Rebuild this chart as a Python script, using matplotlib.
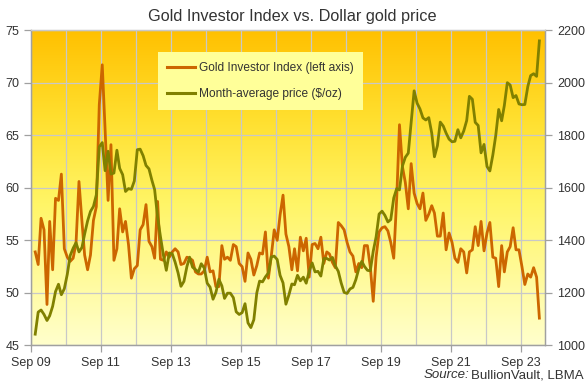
import numpy as np
import pandas as pd
import matplotlib
matplotlib.use('Agg')
import matplotlib.pyplot as plt
import matplotlib.dates as mdates
from matplotlib.colors import LinearSegmentedColormap

plt.rcParams['font.family'] = ['Liberation Sans', 'DejaVu Sans']

# monthly points, Oct 2009 .. Mar 2024 (plotted mid-month)
dates = pd.date_range('2009-10-01', periods=174, freq='MS') + pd.Timedelta(days=14)

gold_investor_index = [
    53.9, 52.7, 57.1,
    56.0, 48.9, 56.8, 52.2, 59.0, 58.8, 61.3, 54.2, 53.4, 53.0, 53.3, 54.7,
    60.6, 56.8, 53.6, 52.2, 53.6, 56.9, 58.2, 67.9, 71.7, 65.5, 58.8, 64.1,
    53.1, 54.2, 58.0, 55.8, 56.8, 54.6, 51.4, 52.3, 52.6, 56.0, 56.5, 58.4,
    54.9, 54.4, 53.3, 58.7, 53.2, 53.1, 53.9, 53.4, 53.9, 54.2, 53.9, 52.7,
    52.8, 53.4, 53.3, 53.1, 52.0, 51.8, 51.8, 52.1, 53.4, 52.0, 52.1, 50.6,
    50.6, 54.5, 53.2, 53.4, 53.1, 54.6, 54.4, 52.8, 52.5, 51.1, 53.8, 53.2,
    51.7, 52.6, 53.8, 53.7, 55.8, 51.4, 53.5, 56.0, 55.0, 57.4, 59.3, 55.6,
    54.4, 52.2, 54.2, 52.1, 55.3, 54.0, 55.2, 51.5, 54.6, 54.7, 54.2, 55.3,
    52.8, 53.9, 53.7, 52.9, 52.4, 56.7, 56.4, 56.0, 54.8, 53.9, 53.5, 52.0,
    52.8, 52.4, 54.5, 54.5, 52.5, 49.2, 53.4, 55.8, 56.2, 56.3, 55.9, 54.8,
    53.3, 59.0, 66.0, 62.0, 60.5, 58.0, 62.3, 59.5, 58.5, 58.0, 59.5, 56.9,
    57.5, 58.3, 57.6, 55.4, 55.4, 57.6, 54.1, 55.7, 54.8, 53.3, 52.9, 54.2,
    53.9, 51.9, 53.9, 54.1, 56.3, 54.5, 56.8, 54.0, 55.7, 56.7, 53.4, 53.3,
    50.6, 54.5, 52.0, 53.9, 54.4, 56.2, 54.1, 54.1, 52.5, 50.8, 51.8, 51.5,
    52.4, 51.5, 47.6,
]

month_avg_price = [
    1043, 1127, 1135,
    1118, 1095, 1113, 1149, 1205, 1233, 1193, 1216, 1271, 1342, 1370, 1391,
    1356, 1373, 1424, 1474, 1510, 1529, 1573, 1756, 1772, 1665, 1739, 1652,
    1656, 1743, 1674, 1650, 1586, 1597, 1594, 1626, 1745, 1747, 1722, 1685,
    1672, 1628, 1593, 1488, 1414, 1343, 1286, 1352, 1349, 1317, 1276, 1225,
    1244, 1300, 1336, 1298, 1289, 1279, 1311, 1295, 1237, 1222, 1176, 1202,
    1252, 1227, 1179, 1199, 1199, 1182, 1128, 1118, 1125, 1159, 1086, 1068,
    1098, 1200, 1245, 1242, 1261, 1276, 1337, 1340, 1327, 1267, 1238, 1157,
    1192, 1234, 1231, 1267, 1246, 1260, 1237, 1283, 1314, 1280, 1282, 1264,
    1331, 1331, 1325, 1335, 1303, 1282, 1238, 1202, 1198, 1215, 1221, 1250,
    1292, 1320, 1301, 1286, 1284, 1359, 1413, 1500, 1511, 1495, 1470, 1479,
    1561, 1597, 1592, 1683, 1716, 1732, 1847, 1969, 1922, 1900, 1866, 1858,
    1867, 1808, 1718, 1760, 1850, 1835, 1808, 1785, 1775, 1777, 1821, 1790,
    1816, 1856, 1948, 1937, 1849, 1837, 1733, 1765, 1681, 1664, 1725, 1798,
    1898, 1855, 1913, 2000, 1991, 1943, 1951, 1919, 1916, 1917, 1985, 2027,
    2034, 2024, 2159,
]

x_tick_years = [2009, 2011, 2013, 2015, 2017, 2019, 2021, 2023]
left_ticks = [45, 50, 55, 60, 65, 70, 75]
right_ticks = [1000, 1200, 1400, 1600, 1800, 2000, 2200]

fig = plt.figure(figsize=(5.85, 3.86), dpi=100)
ax = fig.add_axes([0.053, 0.105, 0.879, 0.817])

grad = LinearSegmentedColormap.from_list(
    'bg', [(0.0, '#ffffcc'), (0.45, '#fff566'), (0.72, '#ffdf2e'), (1.0, '#ffc000')])
ax.imshow(np.linspace(0, 1, 256).reshape(-1, 1), cmap=grad, origin='lower',
          extent=[0, 1, 0, 1], transform=ax.transAxes, aspect='auto', zorder=0)

ax.plot(dates, gold_investor_index, color='#cc6600', lw=2.0, zorder=3,
        solid_joinstyle='round', label='Gold Investor Index (left axis)')
ax.set_ylim(45, 75)
ax.set_yticks(left_ticks)
ax.set_xlim(pd.Timestamp('2009-09-01'), pd.Timestamp('2024-05-15'))
ax.set_xticks([pd.Timestamp(f'{y}-09-01') for y in x_tick_years])
ax.xaxis.set_minor_locator(mdates.YearLocator(1, month=9, day=1))
ax.xaxis.set_major_formatter(mdates.DateFormatter('%b %y'))
ax.grid(True, which='both', color='#c8c8c8', lw=0.9, zorder=1)
ax.set_axisbelow(True)

ax2 = ax.twinx()
ax2.plot(dates, month_avg_price, color='#808000', lw=2.0, zorder=3,
         solid_joinstyle='round', label='Month-average price ($/oz)')
ax2.set_ylim(1000, 2200)
ax2.set_yticks(right_ticks)

for a in (ax, ax2):
    for s in a.spines.values():
        s.set_color('#a0a0a0')
        s.set_linewidth(0.9)
    a.tick_params(which='major', colors='#a0a0a0', labelcolor='#333333',
                  labelsize=9, length=5, width=0.9)
ax.spines['top'].set_color('#c8c8c8')
ax2.spines['top'].set_color('#c8c8c8')
ax.tick_params(which='minor', length=0)
ax.tick_params(axis='x', pad=3)

h1, l1 = ax.get_legend_handles_labels()
h2, l2 = ax2.get_legend_handles_labels()
leg = ax2.legend(h1 + h2, l1 + l2, loc='upper left', bbox_to_anchor=(0.246, 0.93),
                 borderaxespad=0, fontsize=8.6, frameon=True, fancybox=False,
                 facecolor='#ffff99', edgecolor='none', framealpha=1,
                 handlelength=2.3, handletextpad=0.35, labelspacing=1.2,
                 borderpad=0.8)
for t in leg.get_texts():
    t.set_color('#333333')
for ln in leg.get_lines():
    ln.set_linewidth(2.2)

fig.text(0.5, 0.958, 'Gold Investor Index vs. Dollar gold price',
         ha='center', va='center', fontsize=11.7, color='#333333')
plain = fig.text(0.997, 0.028, 'BullionVault, LBMA', ha='right', va='center',
                 fontsize=9.5, color='#333333')
src = fig.text(0.997, 0.028, 'Source:', ha='right', va='center',
               fontsize=9.5, style='italic', color='#333333')

# put the italic part just left of the plain part
fig.canvas.draw()
r = fig.canvas.get_renderer()
x0 = plain.get_window_extent(r).x0
src.set_position(((x0 - 1) / fig.bbox.width, 0.028))

fig.savefig('out.png', dpi=100)
